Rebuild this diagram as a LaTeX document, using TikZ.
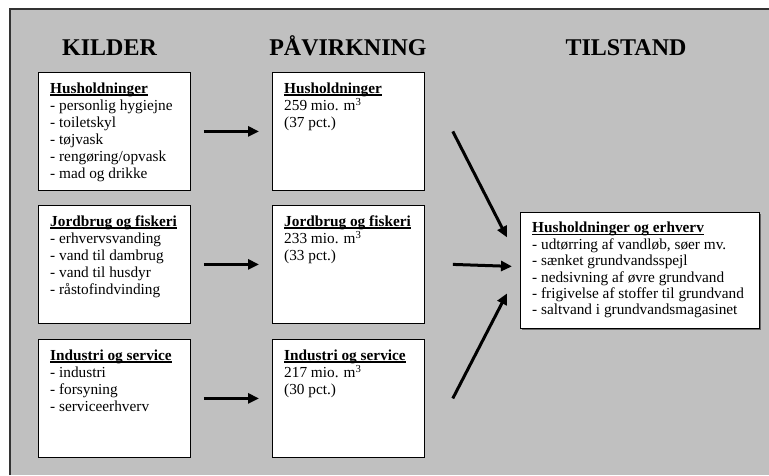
\documentclass[tikz,border=0pt]{standalone}
\usepackage{fontspec}
\setmainfont{Liberation Serif}
\usetikzlibrary{arrows.meta,shadows}
\definecolor{panelgrey}{rgb}{0.753, 0.753, 0.753}
\definecolor{rimgrey}{rgb}{0.2, 0.2, 0.2}
\newcommand{\boxhead}[1]{\textbf{\setbox0\hbox{#1}\rlap{\rule[-2.2pt]{\wd0}{1.3pt}}\box0}}
\tikzset{box/.style={draw=black, fill=white, line width=0.8pt, anchor=north west, minimum width=152pt, minimum height=118pt, inner sep=0pt}}
\tikzset{boxtext/.style={anchor=north west, align=left, inner sep=0pt, font=\fontsize{15.3}{17}\selectfont}}
\tikzset{title/.style={anchor=base, font=\fontsize{24}{28}\selectfont\bfseries}}
\tikzset{arr/.style={line width=3pt, -{Triangle[length=11pt, width=10pt]}}}

\begin{document}
\begin{tikzpicture}[x=1pt, y=-1pt]
        \useasboundingbox (0,0) rectangle (769,475);
        \fill[panelgrey] (10,9) rectangle (769,475);
        \draw[rimgrey, line width=1.2pt] (10,475) -- (10,9) -- (769,9);

        \node[title] (tk) at (109.5,55) {KILDER};
        \node[title] (tp) at (348,55) {PÅVIRKNING};
        \node[title] (tt) at (626,55) {TILSTAND};

        \node[box] (k1) at (38,72) {};
        \node[box] (k2) at (38,205) {};
        \node[box] (k3) at (38,339) {};
        \node[box] (p1) at (272,72) {};
        \node[box] (p2) at (272,205) {};
        \node[box] (p3) at (272,339) {};
        \node[box, minimum width=239pt, minimum height=116pt,
              drop shadow={shadow xshift=1.2pt, shadow yshift=-1.2pt, fill=black!60, opacity=1}] (r) at (520,212) {};

        \node[boxtext] (k1t) at ([xshift=12pt, yshift=-10.5pt]k1.north west)
        {\boxhead{Husholdninger}\\- personlig hygiejne\\- toiletskyl\\- tøjvask\\- rengøring/opvask\\- mad og drikke};
        \node[boxtext] (k2t) at ([xshift=12pt, yshift=-10.5pt]k2.north west)
        {\boxhead{Jordbrug og fiskeri}\\- erhvervsvanding\\- vand til dambrug\\- vand til husdyr\\- råstofindvinding};
        \node[boxtext] (k3t) at ([xshift=12pt, yshift=-10.5pt]k3.north west)
        {\boxhead{Industri og service}\\- industri\\- forsyning\\- serviceerhverv};

        \node[boxtext] (p1t) at ([xshift=12pt, yshift=-10.5pt]p1.north west)
        {\boxhead{Husholdninger}\\259 mio. m\textsuperscript{3}\\(37 pct.)};
        \node[boxtext] (p2t) at ([xshift=12pt, yshift=-10.5pt]p2.north west)
        {\boxhead{Jordbrug og fiskeri}\\233 mio. m\textsuperscript{3}\\(33 pct.)};
        \node[boxtext] (p3t) at ([xshift=12pt, yshift=-10.5pt]p3.north west)
        {\boxhead{Industri og service}\\217 mio. m\textsuperscript{3}\\(30 pct.)};

        \node[boxtext, font=\fontsize{15.3}{16.4}\selectfont] (rt) at ([xshift=12pt, yshift=-10pt]r.north west)
        {\boxhead{Husholdninger og erhverv}\\- udtørring af vandløb, søer mv.\\- sænket grundvandsspejl\\- nedsivning af øvre grundvand\\- frigivelse af stoffer til grundvand\\- saltvand i grundvandsmagasinet};

        \draw [arr] ([xshift=13pt]k1.east) -- ([xshift=-13pt]p1.west);
        \draw [arr] ([xshift=13pt]k2.east) -- ([xshift=-13pt]p2.west);
        \draw [arr] ([xshift=13pt]k3.east) -- ([xshift=-13pt]p3.west);

        \draw [arr] ([xshift=28pt]p1.east) -- ([xshift=-13pt, yshift=33pt]r.west);
        \draw [arr] ([xshift=28pt]p2.east) -- ([xshift=-8pt, yshift=4pt]r.west);
        \draw [arr] ([xshift=28pt]p3.east) -- ([xshift=-13pt, yshift=-23pt]r.west);

   \end{tikzpicture}
\end{document}
